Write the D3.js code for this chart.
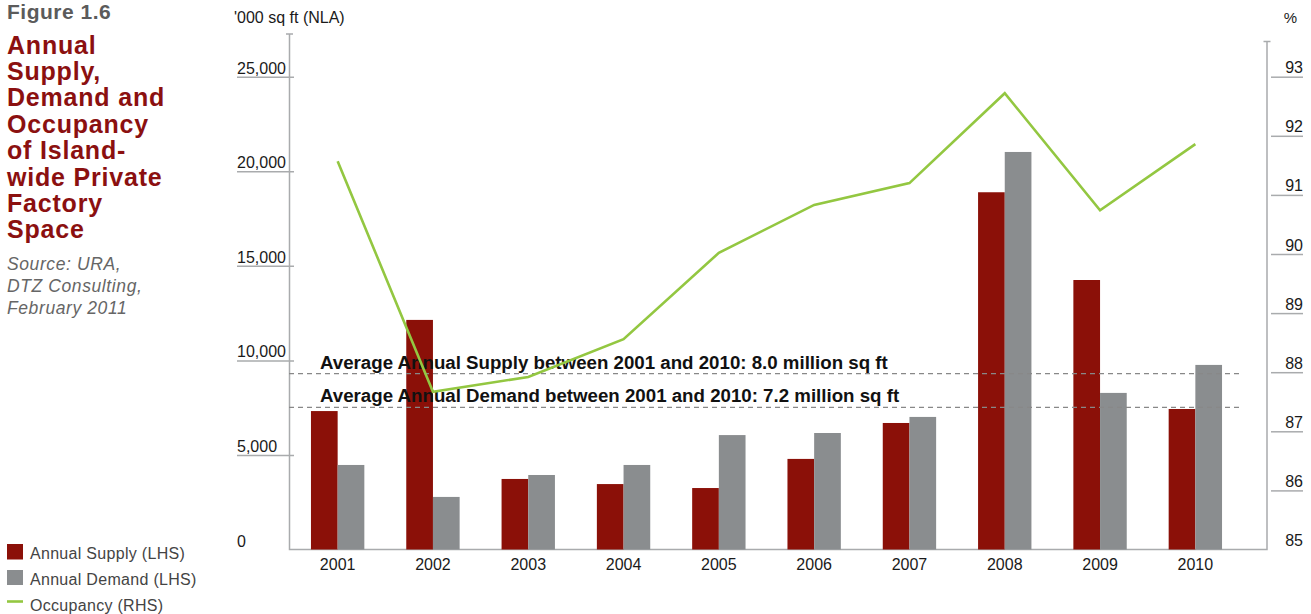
<!DOCTYPE html>
<html>
<head>
<meta charset="utf-8">
<script src="https://cdn.jsdelivr.net/npm/d3@7"></script>
<style>
	body { margin: 0; background: #fff; }
	svg { display: block; font-family: "Liberation Sans", Arial, Helvetica, sans-serif; }
	.tick line { stroke: #a9abad; stroke-width: 1.5; }
	.tick text { fill: #1a1a1a; font-size: 16px; }
	.axis-line { stroke: #a9abad; stroke-width: 1.5; fill: none; }
	.avg-line { stroke: #888; stroke-width: 1.3; stroke-dasharray: 5,4; }
	.avg-text { font-family: "Liberation Sans Narrow", "Arial Narrow", sans-serif; font-weight: bold; font-size: 18.7px; fill: #111; }
</style>
</head>
<body>
<div id="chart"></div>
<script>
//chart values
let years = ["2001", "2002", "2003", "2004", "2005", "2006", "2007", "2008", "2009", "2010"];
let supply = [7320, 12140, 3730, 3460, 3250, 4790, 6690, 18890, 14250, 7430];
let demand = [4470, 2780, 3940, 4470, 6050, 6160, 7010, 21020, 8280, 9760];
let occupancy = [91.57, 87.67, 87.92, 88.56, 90.02, 90.83, 91.20, 92.72, 90.74, 91.86];
let leftTicks = [0, 5000, 10000, 15000, 20000, 25000];
let rightTicks = [85, 86, 87, 88, 89, 90, 91, 92, 93];
let avgLevels = [9300, 7520];
let avgLabels = [
	"Average Annual Supply between 2001 and 2010: 8.0 million sq ft",
	"Average Annual Demand between 2001 and 2010: 7.2 million sq ft"
];
let titleLines = ["Annual", "Supply,", "Demand and", "Occupancy", "of Island-", "wide Private", "Factory", "Space"];
let sourceLines = ["Source: URA,", "DTZ Consulting,", "February 2011"];
let legendItems = ["Annual Supply (LHS)", "Annual Demand (LHS)", "Occupancy (RHS)"];

let colSupply = "#8b1008";
let colDemand = "#8a8d8f";
let colLine = "#93c741";

let W = 1311, H = 614;
let svg = d3.select("#chart").append("svg")
	.attr("width", W)
	.attr("height", H);

//plot area
let plotLeft = 290, plotRight = 1243, axisRightX = 1267;
let yBase = 549.5, yTop = 76.7;

let x0 = d3.scaleBand().domain(years).range([plotLeft, plotRight])
	.paddingInner(0.44).paddingOuter(0.22);
let x1 = d3.scaleBand().domain(["supply", "demand"]).range([0, x0.bandwidth()]);
let yL = d3.scaleLinear().domain([0, 25000]).range([yBase, yTop]);
let yR = d3.scaleLinear().domain([85, 93]).range([yBase, yTop]);

//left axis
let gL = svg.append("g")
	.attr("transform", "translate(294,0)")
	.call(d3.axisLeft(yL).tickValues(leftTicks).tickSize(57).tickFormat(d3.format(",")));
gL.select(".domain").remove();
gL.selectAll(".tick text")
	.attr("x", -57).attr("dy", -3.5)
	.attr("text-anchor", "start");
gL.selectAll(".tick").filter(d => d === 0).select("line").remove();

//right axis
let gR = svg.append("g")
	.attr("transform", "translate(1271,0)")
	.call(d3.axisRight(yR).tickValues(rightTicks).tickSize(32));
gR.select(".domain").remove();
gR.selectAll(".tick text")
	.attr("x", 32).attr("dy", -4)
	.attr("text-anchor", "end");
gR.selectAll(".tick").filter(d => d === 85).select("line").remove();

//axis lines
svg.append("path").attr("class", "axis-line")
	.attr("d", `M286,34H293M289.5,34V${yBase}H${axisRightX}V41.5M${axisRightX - 3.5},41.5H${axisRightX + 3.5}`);

//bars
let groups = svg.append("g").selectAll("g")
	.data(years)
	.enter().append("g")
	.attr("transform", d => `translate(${x0(d)},0)`);
groups.append("rect")
	.attr("x", x1("supply"))
	.attr("width", x1.bandwidth())
	.attr("y", (d, i) => yL(supply[i]))
	.attr("height", (d, i) => yBase - yL(supply[i]))
	.attr("fill", colSupply);
groups.append("rect")
	.attr("x", x1("demand"))
	.attr("width", x1.bandwidth())
	.attr("y", (d, i) => yL(demand[i]))
	.attr("height", (d, i) => yBase - yL(demand[i]))
	.attr("fill", colDemand);

//bottom axis labels
let gB = svg.append("g")
	.attr("transform", `translate(0,${yBase})`)
	.call(d3.axisBottom(x0).tickSize(0));
gB.select(".domain").remove();
gB.selectAll(".tick text").attr("y", 9);

//average lines
avgLevels.forEach((v, i) => {
	svg.append("line").attr("class", "avg-line")
		.attr("x1", 289).attr("x2", plotRight)
		.attr("y1", yL(v)).attr("y2", yL(v));
	svg.append("text").attr("class", "avg-text")
		.attr("x", 320).attr("y", yL(v) - 5)
		.text(avgLabels[i]);
});

//occupancy line
let line = d3.line()
	.x((d, i) => x0(years[i]) + x0.bandwidth() / 2)
	.y(d => yR(d));
svg.append("path")
	.attr("d", line(occupancy))
	.attr("fill", "none")
	.attr("stroke", colLine)
	.attr("stroke-width", 2.6);

//axis titles
svg.append("text").attr("x", 234).attr("y", 23)
	.attr("font-size", 16).attr("fill", "#1a1a1a")
	.text("'000 sq ft (NLA)");
svg.append("text").attr("x", 1297).attr("y", 23)
	.attr("text-anchor", "end")
	.attr("font-size", 15).attr("fill", "#1a1a1a")
	.text("%");

//figure title block
svg.append("text").attr("x", 7).attr("y", 19)
	.attr("font-size", 21).attr("font-weight", "bold")
	.attr("letter-spacing", 0.5).attr("fill", "#5b5b5b")
	.text("Figure 1.6");
svg.selectAll(".title-line")
	.data(titleLines)
	.enter().append("text")
	.attr("class", "title-line")
	.attr("x", 7)
	.attr("y", (d, i) => 53.5 + i * 26.4)
	.attr("font-size", 25).attr("font-weight", "bold")
	.attr("letter-spacing", 0.8).attr("fill", "#8b1010")
	.text(d => d);
svg.selectAll(".source-line")
	.data(sourceLines)
	.enter().append("text")
	.attr("class", "source-line")
	.attr("x", 7)
	.attr("y", (d, i) => 270 + i * 22)
	.attr("font-size", 17.5).attr("font-style", "italic")
	.attr("letter-spacing", 0.6).attr("fill", "#666")
	.text(d => d);

//legend
let legend = svg.append("g").attr("transform", "translate(7,0)");
legend.append("rect").attr("x", 0).attr("y", 544).attr("width", 16).attr("height", 15.5).attr("fill", colSupply);
legend.append("rect").attr("x", 0).attr("y", 570).attr("width", 16).attr("height", 15).attr("fill", colDemand);
legend.append("line").attr("x1", 0).attr("x2", 16).attr("y1", 601.5).attr("y2", 601.5)
	.attr("stroke", colLine).attr("stroke-width", 2.6);
legend.selectAll("text")
	.data(legendItems)
	.enter().append("text")
	.attr("x", 23)
	.attr("y", (d, i) => 559 + i * 26)
	.attr("font-size", 16).attr("letter-spacing", 0.3).attr("fill", "#444")
	.text(d => d);
</script>
</body>
</html>
